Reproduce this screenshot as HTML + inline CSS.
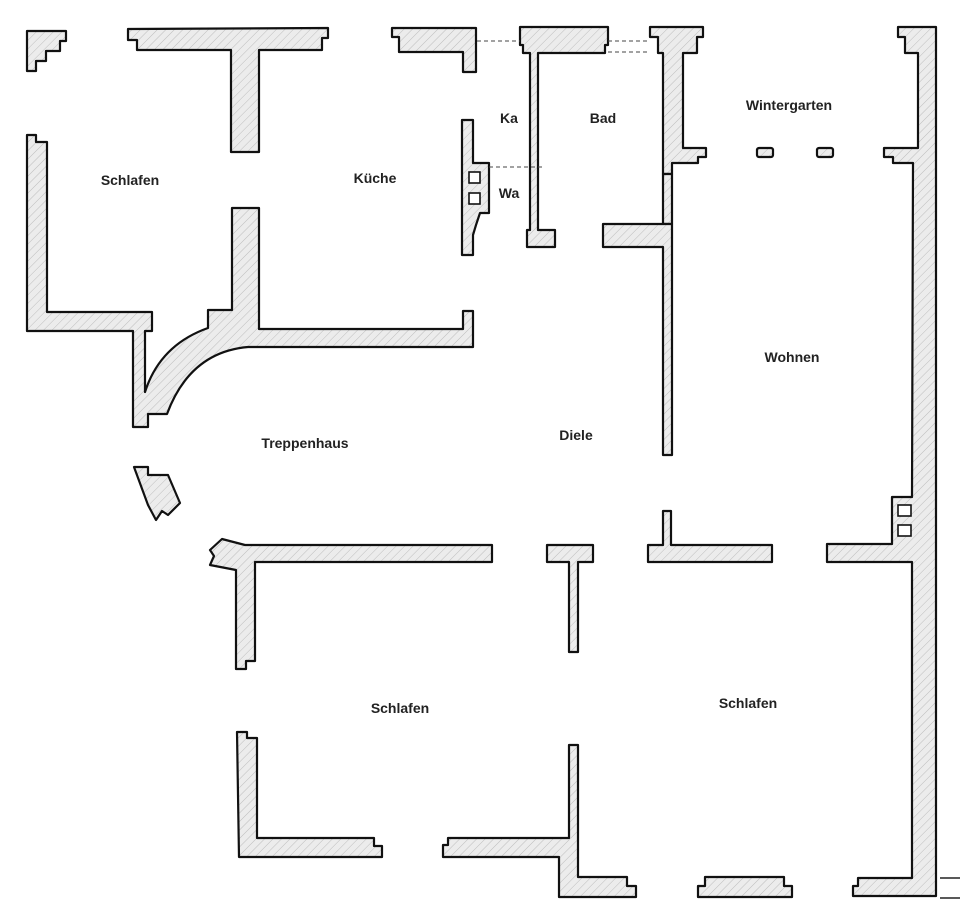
<!DOCTYPE html>
<html><head><meta charset="utf-8"><style>
html,body{margin:0;padding:0;background:#fff;}
svg{display:block}
text{font-family:"Liberation Sans",sans-serif;font-weight:bold;font-size:14px;fill:#222;text-anchor:middle}
</style></head><body>
<svg width="960" height="916" viewBox="0 0 960 916" xmlns="http://www.w3.org/2000/svg">
<defs>
<pattern id="h" width="6" height="6" patternUnits="userSpaceOnUse" patternTransform="rotate(45)">
<rect width="6" height="6" fill="#ececec"/><line x1="0" y1="0" x2="0" y2="6" stroke="#bdbdbd" stroke-width="1"/>
</pattern>
</defs>
<g fill="url(#h)" stroke="#111" stroke-width="2.2" stroke-linejoin="round">
<polygon points="27,31 66,31 66,41 60,41 60,51 46,51 46,61 36,61 36,71 27,71"/>
<polygon points="128,29 328,28 328,38 322,38 322,50 259,50 259,152 231,152 231,50 137,50 137,40 128,40"/>
<polygon points="392,28 476,28 476,72 463,72 463,52 399,52 399,37 392,37"/>
<path d="M27,135 L36,135 L36,142 L47,142 L47,312 L152,312 L152,331 L145,331 L145,392 Q160,345 208,328 L208,310 L232,310 L232,208 L259,208 L259,329 L463,329 L463,311 L473,311 L473,347 L248,347 Q190,352 167,414 L148,414 L148,427 L133,427 L133,331 L27,331 Z"/>
<polygon points="520,27 608,27 608,45 605,45 605,53 538,53 538,230 555,230 555,247 527,247 527,230 530,230 530,53 523,53 523,45 520,45"/>
<polygon points="462,120 473,120 473,163 489,163 489,213 480,213 476,225 473,235 473,255 462,255"/>
<polygon points="650,27 703,27 703,37 697,37 697,53 683,53 683,148 706,148 706,157 698,157 698,163 672,163 672,174 663,174 663,53 658,53 658,37 650,37"/>
<rect x="663" y="174" width="9" height="50"/>
<polygon points="603,224 672,224 672,455 663,455 663,247 603,247"/>
<rect x="757" y="148" width="16" height="9" rx="2"/>
<rect x="817" y="148" width="16" height="9" rx="2"/>
<polygon points="898,27 936,27 936,896 853,896 853,886 858,886 858,878 912,878 912,562 827,562 827,544 892,544 892,497 912,497 913,163 893,163 893,157 884,157 884,148 918,148 918,53 905,53 905,37 898,37"/>
<polygon points="134,467 148,467 148,475 168,475 180,503 168,515 162,511 156,520 148,505"/>
<polygon points="222,539 245,545 492,545 492,562 255,562 255,661 246,661 246,669 236,669 236,570 210,565 214,556 210,550"/>
<polygon points="547,545 593,545 593,562 578,562 578,652 569,652 569,562 547,562"/>
<polygon points="648,545 663,545 663,511 671,511 671,545 772,545 772,562 648,562"/>
<polygon points="237,732 247,732 247,738 257,738 257,838 374,838 374,846 382,846 382,857 239,857"/>
<polygon points="443,845 448,845 448,838 569,838 569,745 578,745 578,877 627,877 627,886 636,886 636,897 559,897 559,857 443,857"/>
<polygon points="698,886 705,886 705,877 784,877 784,886 792,886 792,897 698,897"/>
</g>
<g fill="#fff" stroke="#111" stroke-width="1.6">
<rect x="469" y="172" width="11" height="11"/><rect x="469" y="193" width="11" height="11"/>
<rect x="898" y="505" width="13" height="11"/><rect x="898" y="525" width="13" height="11"/>
</g>
<g stroke="#444" stroke-width="1" stroke-dasharray="4,3" fill="none">
<line x1="477" y1="41" x2="520" y2="41"/>
<line x1="608" y1="41" x2="650" y2="41"/>
<line x1="608" y1="52" x2="650" y2="52"/>
<line x1="489" y1="167" x2="545" y2="167"/>
</g>
<g stroke="#222" stroke-width="1.5">
<line x1="940" y1="878" x2="960" y2="878"/><line x1="940" y1="898" x2="960" y2="898"/>
</g>
<text x="130" y="185">Schlafen</text>
<text x="375" y="183">Küche</text>
<text x="509" y="123">Ka</text>
<text x="603" y="123">Bad</text>
<text x="509" y="198">Wa</text>
<text x="789" y="110">Wintergarten</text>
<text x="792" y="362">Wohnen</text>
<text x="305" y="448">Treppenhaus</text>
<text x="576" y="440">Diele</text>
<text x="400" y="713">Schlafen</text>
<text x="748" y="708">Schlafen</text>
</svg>
</body></html>
